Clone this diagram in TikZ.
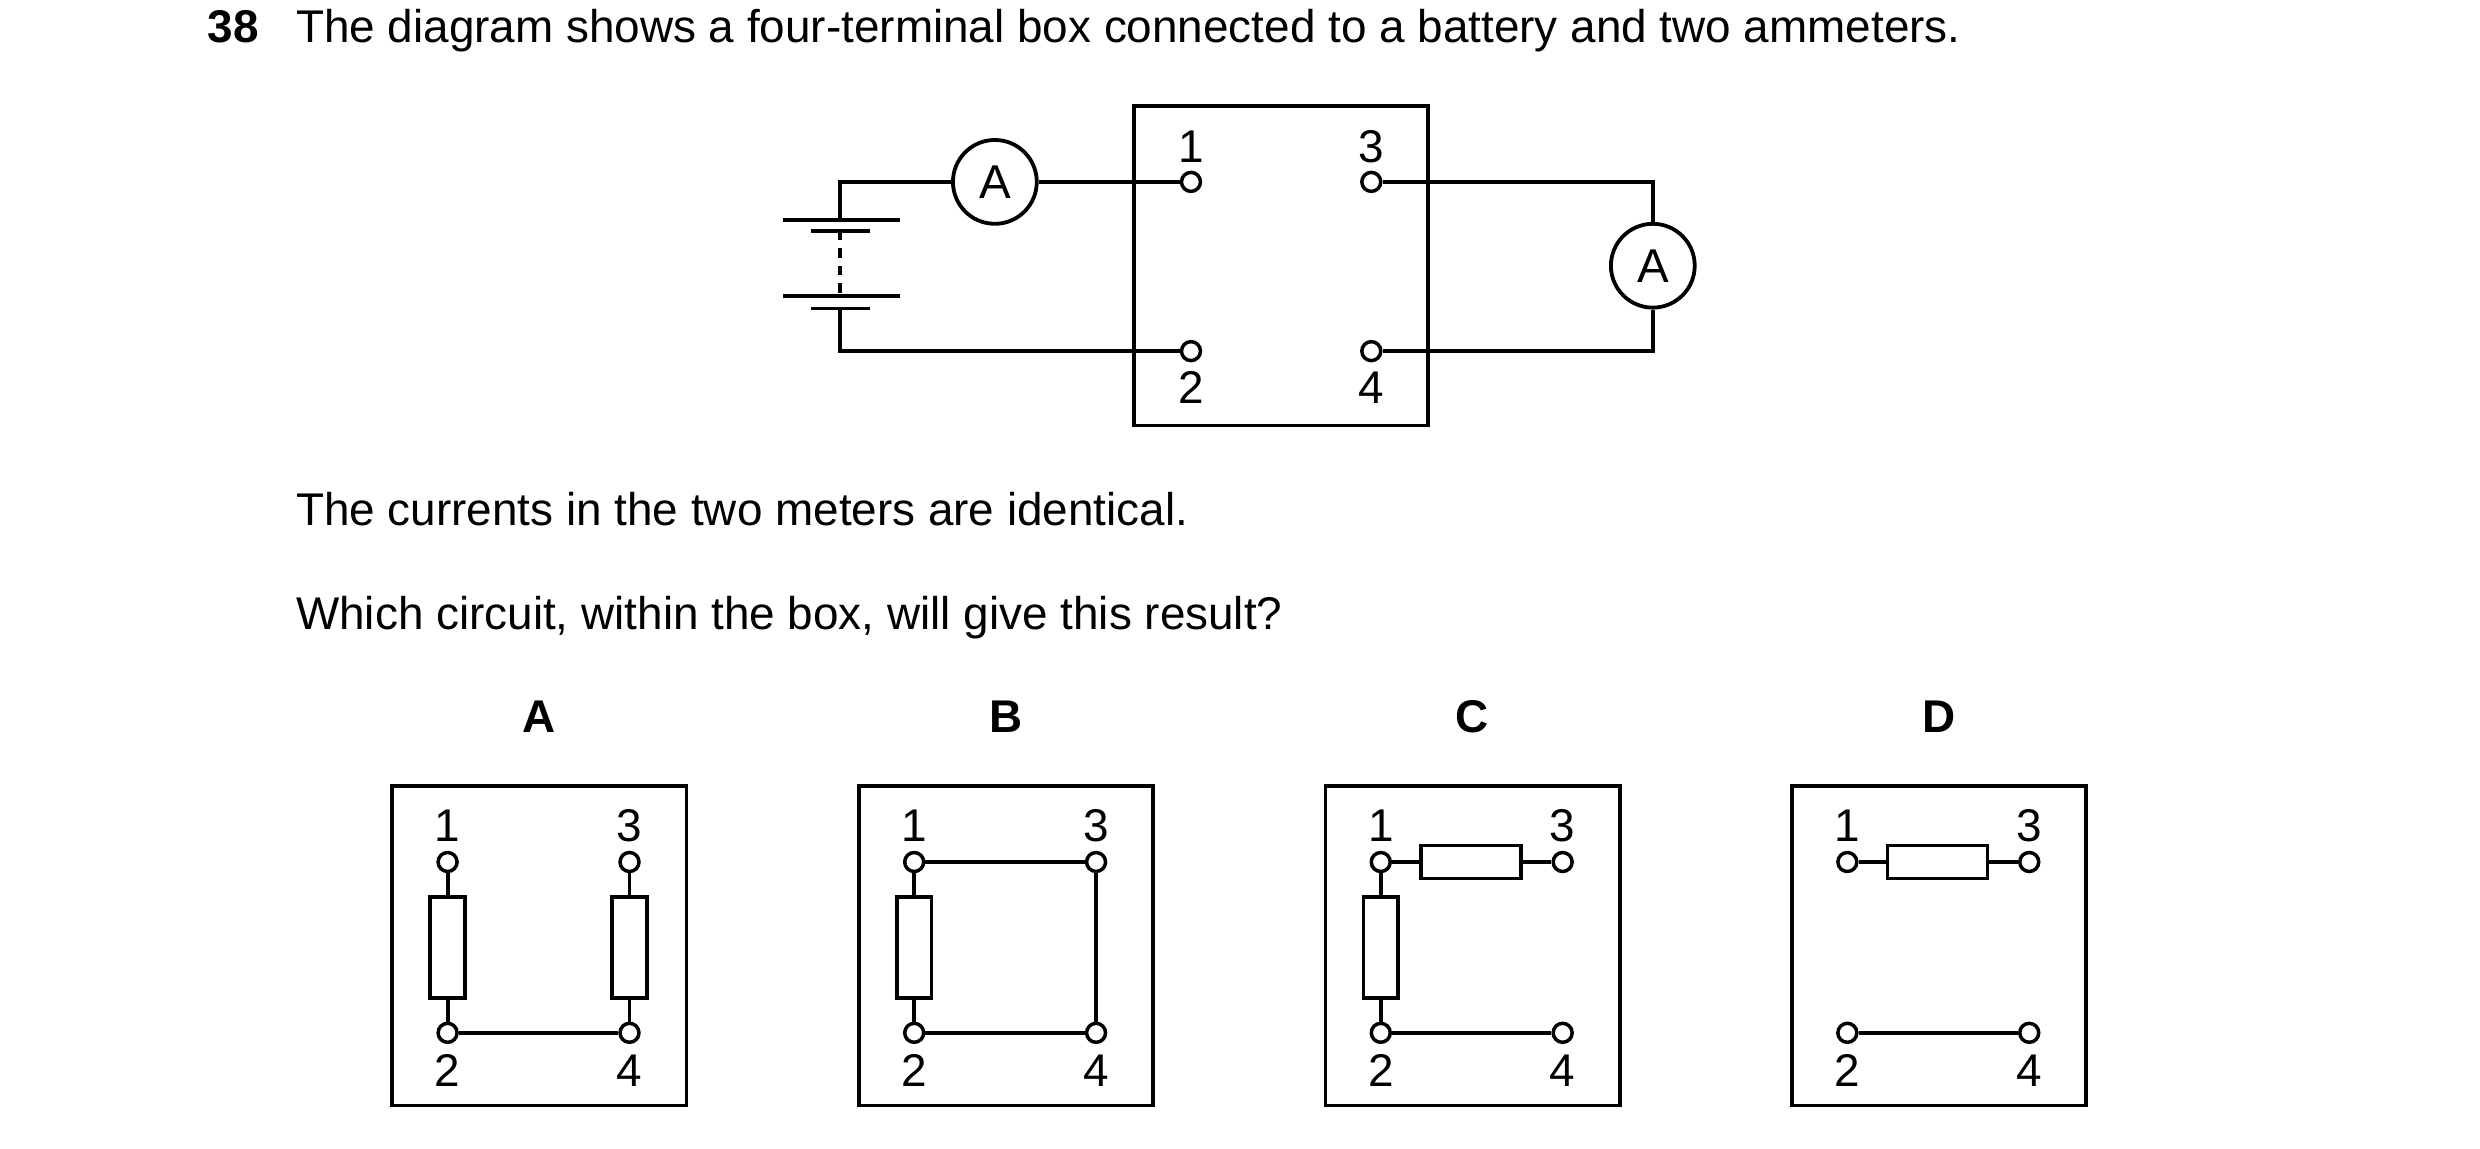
\documentclass[tikz,border=0pt]{standalone}
\usepackage{fontspec}
\setmainfont{Liberation Sans}
\usetikzlibrary{calc}
\tikzstyle{wire}=[line width=2.4pt]
\tikzstyle{term}=[circle,draw,line width=2.2pt,fill=white,inner sep=0pt,minimum size=12pt]
\tikzstyle{meter}=[circle,draw,line width=2.4pt,fill=white,inner sep=0pt,minimum size=53pt,font=\fontsize{30}{30}\selectfont]
\tikzstyle{res}=[draw,line width=2.2pt,fill=white,inner sep=0pt]
\tikzstyle{num}=[font=\fontsize{29}{29}\selectfont,inner sep=0pt]
\tikzstyle{txt}=[font=\fontsize{29}{34}\selectfont,anchor=base west,inner sep=0pt]
\newcommand\optlabel[1]{\textbf{#1}}

\begin{document}
\begin{tikzpicture}[x=1pt,y=-1pt]
	\useasboundingbox (0,0) rectangle (1568,726);
	% question text
	\node[txt] (qnum) at (131,27) {\textbf{38}};
	\node[txt] (q1) at (187,27) {The diagram shows a four-terminal box connected to a battery and two ammeters.};
	\node[txt] (q2) at (187,332) {The currents in the two meters are identical.};
	\node[txt] (q3) at (187,398) {Which circuit, within the box, will give this result?};
	% main box
	\draw[wire] (717,67) rectangle (903,269);
	\node[term] (t1) at (753,115) {};
	\node[term] (t3) at (867,115) {};
	\node[term] (t2) at (753,222) {};
	\node[term] (t4) at (867,222) {};
	\node[num] at (753,93)  {1};
	\node[num] at (867,93)  {3};
	\node[num] at (753,245) {2};
	\node[num] at (867,245) {4};
	\node[meter] (am1) at (629,115) {A};
	\node[meter] (am2) at (1045,168) {A};
	\coordinate (bt) at (531,139);
	\coordinate (bb) at (531,195);
	\draw[wire] (t1) -- (am1) -- (531,115) -- (bt);
	\draw[wire] (bb) -- (531,222) -- (t2);
	\draw[wire] (t3) -- (1045,115) -- (am2) -- (1045,222) -- (t4);
	% battery
	\draw[wire] (495,139) -- (569,139) (513,146) -- (550,146);
	\draw[wire] (495,187) -- (569,187) (513,195) -- (550,195);
	\draw[wire,dash pattern=on 6pt off 5pt] (531,146) -- (531,187);
	% options
	\foreach \o/\l in {0/A,295/B,590/C,885/D}{
		\begin{scope}[xshift=\o]
			\node[font=\fontsize{29}{29}\selectfont] at (341,453) {\optlabel{\l}};
			\draw[wire] (248,497) rectangle (434,699);
			\node[term] (o\l-1) at (283,545) {};
			\node[term] (o\l-3) at (398,545) {};
			\node[term] (o\l-2) at (283,653) {};
			\node[term] (o\l-4) at (398,653) {};
			\node[num] at (283,522) {1};
			\node[num] at (398,522) {3};
			\node[num] at (283,677) {2};
			\node[num] at (398,677) {4};
			\draw[wire] (o\l-2) -- (o\l-4);
		\end{scope}
	}
	% A
	\node[res,minimum width=22pt,minimum height=64pt] (rA1) at (283,599) {};
	\node[res,minimum width=22pt,minimum height=64pt] (rA2) at (398,599) {};
	\draw[wire] (oA-1) -- (rA1) -- (oA-2);
	\draw[wire] (oA-3) -- (rA2) -- (oA-4);
	% B
	\node[res,minimum width=22pt,minimum height=64pt] (rB1) at (578,599) {};
	\draw[wire] (oB-1) -- (rB1) -- (oB-2);
	\draw[wire] (oB-1) -- (oB-3) -- (oB-4);
	% C
	\node[res,minimum width=22pt,minimum height=64pt] (rC1) at (873,599) {};
	\node[res,minimum width=63pt,minimum height=21pt] (rC2) at (930,545) {};
	\draw[wire] (oC-1) -- (rC1) -- (oC-2);
	\draw[wire] (oC-1) -- (rC2) -- (oC-3);
	% D
	\node[res,minimum width=63pt,minimum height=21pt] (rD1) at (1225,545) {};
	\draw[wire] (oD-1) -- (rD1) -- (oD-3);
\end{tikzpicture}
\end{document}
